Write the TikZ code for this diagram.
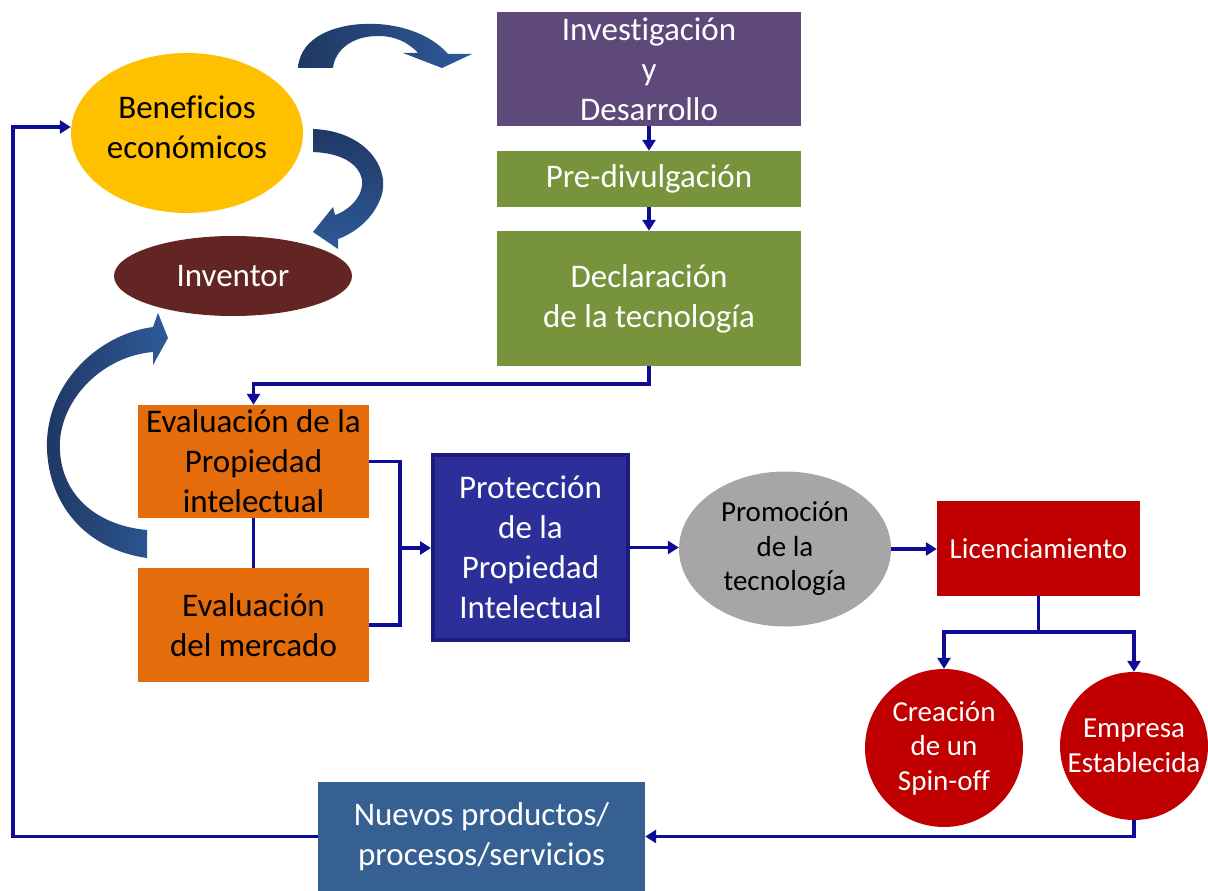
\documentclass[tikz,border=0pt]{standalone}
\usepackage{fontspec}
\setmainfont{Carlito}[RawFeature={-liga,-clig,-dlig}]
\usetikzlibrary{arrows.meta,shapes.geometric}

\definecolor{purpleRD}{HTML}{5F497A}
\definecolor{oliveG}{HTML}{77933C}
\definecolor{goldY}{HTML}{FFC000}
\definecolor{brownI}{HTML}{632523}
\definecolor{orangeE}{HTML}{E46C0A}
\definecolor{royalP}{HTML}{2C2F9A}
\definecolor{royalB}{HTML}{1C1C7C}
\definecolor{greyP}{HTML}{A6A6A6}
\definecolor{redL}{HTML}{C00000}
\definecolor{steelN}{HTML}{376092}
\definecolor{navyC}{HTML}{0C0C96}
\definecolor{arrowD}{HTML}{1F3864}
\definecolor{arrowL}{HTML}{2F5A98}

\newcommand{\bigtxt}{\fontsize{33}{40}\selectfont}
\newcommand{\smalltxt}{\fontsize{29}{34.5}\selectfont}

\begin{document}
\begin{tikzpicture}[x=1pt,y=-1pt,
  blk/.style={rectangle, inner sep=0pt, align=center, font=\bigtxt},
  oval/.style={ellipse, inner sep=0pt, align=center},
  disc/.style={circle, inner sep=0pt, align=center, fill=redL, text=white,
    font=\smalltxt},
  conn/.style={draw=navyC, line width=3.8pt},
  tip/.style={conn, -{Triangle[length=11pt,width=13pt]}}]

\useasboundingbox (0,0) rectangle (1208,891);

% curved block arrows
\shade[left color=arrowD, right color=arrowL]
  (298,68) .. controls (300,36) and (338,22) .. (377,24)
  .. controls (412,26) and (436,40) .. (448,54)
  -- (472,54) -- (442,68) -- (403,53) -- (418,53)
  .. controls (408,42) and (395,36) .. (378,36)
  .. controls (352,36) and (335,50) .. (333,68) -- cycle;

\shade[top color=arrowD, bottom color=arrowL]
  (313,129) .. controls (368,131) and (394,172) .. (379,202)
  .. controls (370,222) and (352,234) .. (338,239)
  -- (338,249) -- (313,232) -- (333,207) -- (335,215)
  .. controls (350,210) and (364,195) .. (362,180)
  .. controls (359,163) and (340,153) .. (313,152) -- cycle;

\shade[left color=arrowD, right color=arrowL]
  (147,558) .. controls (78,548) and (45,495) .. (47,440)
  .. controls (50,380) and (100,334) .. (153,327)
  -- (158,313) -- (168,338) -- (153,365) -- (153,352)
  .. controls (105,356) and (64,395) .. (60,440)
  .. controls (57,490) and (92,525) .. (147,530) -- cycle;

% nodes
\node[blk, fill=purpleRD, text=white, minimum width=304pt, minimum height=114pt]
  (inv) at (649,69) {Investigación\\y\\Desarrollo};
\node[blk, fill=oliveG, text=white, minimum width=304pt, minimum height=56pt]
  (pre) at (649,179) {Pre-divulgación};
\node[blk, fill=oliveG, text=white, minimum width=304pt, minimum height=135pt]
  (dec) at (649,298.5) {Declaración\\de la tecnología};

\node[oval, fill=goldY, minimum width=232pt, minimum height=160pt]
  (ben) at (187,133) {};
\node[align=center, inner sep=0pt, font=\bigtxt] (bentxt) at (187,127)
  {Beneficios\\económicos};
\node[oval, fill=brownI, text=white, font=\bigtxt, minimum width=238pt,
  minimum height=80pt] (inventor) at (233,276) {Inventor};

\node[blk, fill=orangeE, minimum width=231pt, minimum height=113pt]
  (epi) at (253.5,461.5) {Evaluación de la\\Propiedad\\intelectual};
\node[blk, fill=orangeE, minimum width=231pt, minimum height=114pt]
  (emk) at (253.5,625) {Evaluación\\del mercado};

\node[blk, fill=royalP, draw=royalB, line width=4pt, text=white,
  minimum width=195pt, minimum height=185pt]
  (prot) at (530.5,547.5) {Protección\\de la\\Propiedad\\Intelectual};

\node[oval, fill=greyP, font=\smalltxt, minimum width=212pt, minimum height=155pt]
  (prom) at (785,549) {Promoción\\de la\\tecnología};

\node[blk, fill=redL, text=white, font=\smalltxt, minimum width=203pt,
  minimum height=95pt] (lic) at (1038.5,548.5) {Licenciamiento};

\node[disc, minimum size=158pt] (spin) at (944,748) {Creación\\de un\\Spin-off};
\node[disc, minimum size=148pt] (emp) at (1134,746) {Empresa\\Establecida};

\node[blk, fill=steelN, text=white, minimum width=327pt, minimum height=109pt]
  (nuevo) at (481.5,836.5) {Nuevos productos/\\procesos/servicios};

% connectors
\coordinate (join) at (400,548);
\coordinate (split) at (1038.5,632);
\coordinate (loop) at (13,127);

\draw[tip] (inv.south) -- (pre.north);
\draw[tip] (pre.south) -- (dec.north);
\draw[tip] (dec.south) -- ++(0,18) -| (epi.north);
\draw[conn] (epi.south) -- (emk.north);
\draw[conn] (epi.east) -| (join);
\draw[conn] (emk.east) -| (join);
\draw[tip] (join) -- (join -| prot.west);
\draw[tip] (prot.east) -- (prot.east -| prom.west);
\draw[tip] (prom.east) -- (prom.east -| lic.west);
\draw[conn] (lic.south) -- (split);
\draw[tip] (split) -| (spin.north);
\draw[tip] (split) -| (emp.north);
\draw[tip] (emp.south) |- (nuevo.east);
\draw[tip] (nuevo.west) -| (loop) -- (loop -| ben.west);

\end{tikzpicture}
\end{document}
